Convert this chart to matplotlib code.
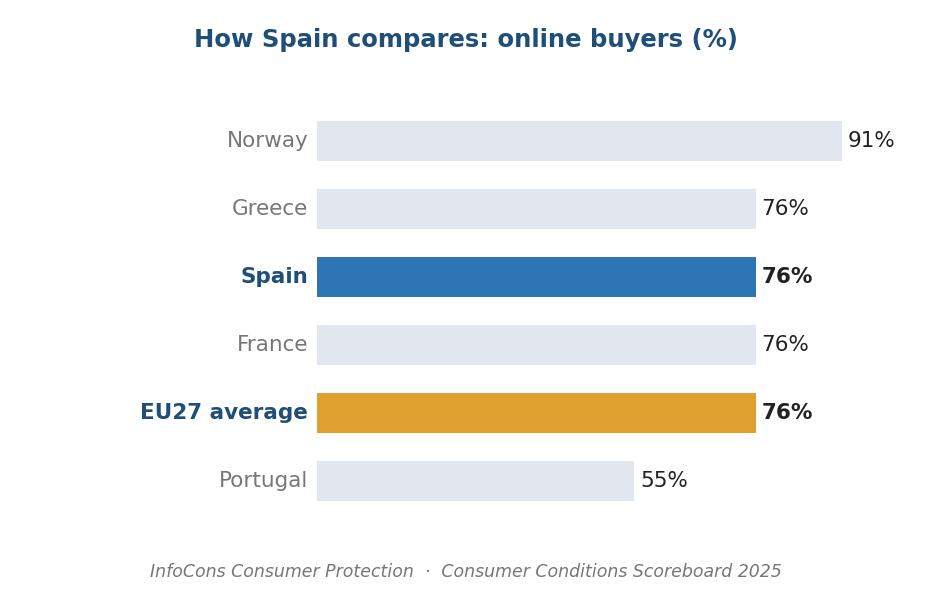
import matplotlib
matplotlib.use("Agg")
import matplotlib.pyplot as plt

countries = ["Norway", "Greece", "Spain", "France", "EU27 average", "Portugal"]
values = [91, 76, 76, 76, 76, 55]
highlight = {"Spain": "#2e75b6", "EU27 average": "#e0a030"}
base_color = "#e1e6ef"

fig = plt.figure(figsize=(9.31, 5.89), dpi=100)
ax = fig.add_axes([317 / 931, 1 - 515 / 589, 577 / 931, 408 / 589])

ys = list(range(len(countries)))
colors = [highlight.get(c, base_color) for c in countries]
ax.barh(ys, values, height=0.6, color=colors)
ax.set_xlim(0, 100)
ax.set_ylim(len(countries) - 0.5, -0.5)
ax.axis("off")

for y, c, v in zip(ys, countries, values):
    hl = c in highlight
    ax.text(-1.5, y, c, ha="right", va="center", fontsize=15.5,
            color="#1f4e79" if hl else "#777777",
            fontweight="bold" if hl else "normal")
    ax.text(v + 1, y, f"{v}%", ha="left", va="center", fontsize=15.5,
            color="#222222", fontweight="bold" if hl else "normal")

fig.text(0.5, 1 - 40 / 589, "How Spain compares: online buyers (%)",
         ha="center", va="center", fontsize=17.5, fontweight="bold", color="#1f4e79")
fig.text(0.5, 1 - 572 / 589,
         "InfoCons Consumer Protection  ·  Consumer Conditions Scoreboard 2025",
         ha="center", va="center", fontsize=12.5, style="italic", color="#777777")

fig.savefig("out.png", dpi=100)
